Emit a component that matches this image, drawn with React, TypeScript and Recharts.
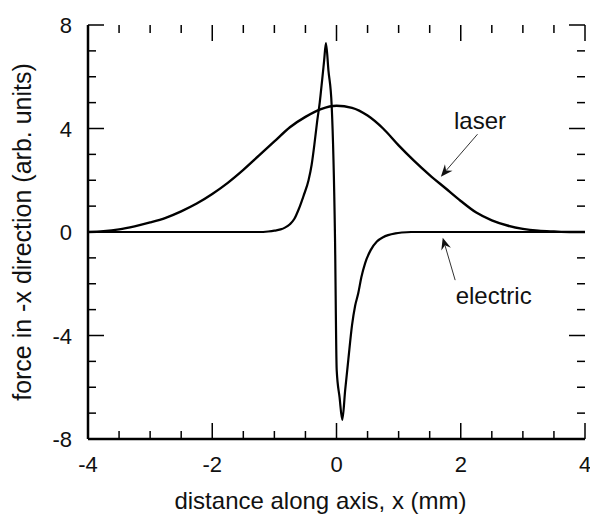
import React from "react";
import {
  LineChart,
  Line,
  XAxis,
  YAxis,
  ReferenceLine,
  ReferenceDot,
  Label,
} from "recharts";

// laser force
const laser = [
  { x: -4, y: 0 },
  { x: -3.75, y: 0.03 },
  { x: -3.5, y: 0.1 },
  { x: -3.25, y: 0.22 },
  { x: -3, y: 0.37 },
  { x: -2.75, y: 0.55 },
  { x: -2.5, y: 0.8 },
  { x: -2.25, y: 1.1 },
  { x: -2, y: 1.47 },
  { x: -1.75, y: 1.9 },
  { x: -1.5, y: 2.4 },
  { x: -1.25, y: 2.95 },
  { x: -1, y: 3.5 },
  { x: -0.75, y: 4.05 },
  { x: -0.5, y: 4.45 },
  { x: -0.25, y: 4.75 },
  { x: 0, y: 4.88 },
  { x: 0.25, y: 4.8 },
  { x: 0.5, y: 4.5 },
  { x: 0.75, y: 4.0 },
  { x: 1, y: 3.35 },
  { x: 1.25, y: 2.75 },
  { x: 1.5, y: 2.2 },
  { x: 1.75, y: 1.7 },
  { x: 2, y: 1.2 },
  { x: 2.25, y: 0.75 },
  { x: 2.5, y: 0.45 },
  { x: 2.75, y: 0.25 },
  { x: 3, y: 0.12 },
  { x: 3.25, y: 0.05 },
  { x: 3.5, y: 0.02 },
  { x: 3.75, y: 0 },
  { x: 4, y: 0 },
];

// electric force
const electric = [
  { x: -4, y: 0 },
  { x: -1.25, y: 0 },
  { x: -1.1, y: 0.02 },
  { x: -1.0, y: 0.05 },
  { x: -0.9, y: 0.1 },
  { x: -0.83, y: 0.17 },
  { x: -0.75, y: 0.3 },
  { x: -0.68, y: 0.5 },
  { x: -0.61, y: 0.87 },
  { x: -0.53, y: 1.4 },
  { x: -0.45, y: 2.0 },
  { x: -0.4, y: 2.6 },
  { x: -0.35, y: 3.5 },
  { x: -0.31, y: 4.3 },
  { x: -0.27, y: 5.0 },
  { x: -0.23, y: 5.9 },
  { x: -0.2, y: 6.6 },
  { x: -0.17, y: 7.3 },
  { x: -0.13, y: 6.25 },
  { x: -0.078, y: 4.9 },
  { x: -0.024, y: -0.23 },
  { x: 0.003, y: -5.33 },
  { x: 0.05, y: -6.4 },
  { x: 0.093, y: -7.26 },
  { x: 0.14, y: -6.1 },
  { x: 0.19, y: -4.94 },
  { x: 0.25, y: -3.6 },
  { x: 0.3, y: -2.85 },
  { x: 0.35, y: -2.37 },
  { x: 0.4, y: -1.75 },
  { x: 0.46, y: -1.21 },
  { x: 0.55, y: -0.7 },
  { x: 0.65, y: -0.37 },
  { x: 0.75, y: -0.2 },
  { x: 0.83, y: -0.12 },
  { x: 0.95, y: -0.05 },
  { x: 1.05, y: -0.02 },
  { x: 1.2, y: 0 },
  { x: 4, y: 0 },
];

const xTicks = [-4, -3.5, -3, -2.5, -2, -1.5, -1, -0.5, 0, 0.5, 1, 1.5, 2, 2.5, 3, 3.5, 4];
const yTicks = [-8, -7, -6, -5, -4, -3, -2, -1, 0, 1, 2, 3, 4, 5, 6, 7, 8];

// annotations: [tail, head] and text anchor
const laserArrow = [{ x: 2.27, y: 3.78 }, { x: 1.68, y: 2.14 }];
const electricArrow = [{ x: 1.91, y: -1.86 }, { x: 1.71, y: -0.22 }];
const notes = [
  { x: 2.31, y: 4.0, text: "laser" },
  { x: 2.53, y: -2.79, text: "electric" },
];

const FONT = "'Liberation Sans', Arial, sans-serif";
const W = 590;
const H = 515;
const M = { top: 25, right: 5, bottom: 0, left: 0 };
const MAJOR = 16;
const MINOR = 8;

const isMajorX = (v: number) => v % 2 === 0;
const isMajorY = (v: number) => v % 4 === 0;

// bottom tick: also mirrors an inward tick on the top frame
function BottomTick({ x, y, payload, plotTop }: any) {
  const major = isMajorX(payload.value);
  const len = major ? MAJOR : MINOR;
  return (
    <g>
      <line x1={x} x2={x} y1={y} y2={y - len} stroke="#000" strokeWidth={1.5} />
      <line x1={x} x2={x} y1={plotTop} y2={plotTop + len} stroke="#000" strokeWidth={1.5} />
      {major && (
        <text x={x} y={y + 33} textAnchor="middle" fontSize={22} fontFamily={FONT} fill="#111">
          {payload.value}
        </text>
      )}
    </g>
  );
}

// left tick: also mirrors an inward tick on the right frame
function LeftTick({ x, y, payload, plotRight }: any) {
  const major = isMajorY(payload.value);
  const len = major ? MAJOR : MINOR;
  return (
    <g>
      <line x1={x} x2={x + len} y1={y} y2={y} stroke="#000" strokeWidth={1.5} />
      <line x1={plotRight} x2={plotRight - len} y1={y} y2={y} stroke="#000" strokeWidth={1.5} />
      {major && (
        <text x={x - 16} y={y + 8} textAnchor="end" fontSize={22} fontFamily={FONT} fill="#111">
          {payload.value}
        </text>
      )}
    </g>
  );
}

function Arrow(props: any) {
  const { x1, y1, x2, y2 } = props;
  const dx = x2 - x1;
  const dy = y2 - y1;
  const len = Math.sqrt(dx * dx + dy * dy) || 1;
  const ux = dx / len;
  const uy = dy / len;
  const bx = x2 - ux * 12;
  const by = y2 - uy * 12;
  const nx = x2 - ux * 8;
  const ny = y2 - uy * 8;
  const pts = [
    [x2, y2],
    [bx - uy * 5, by + ux * 5],
    [nx, ny],
    [bx + uy * 5, by - ux * 5],
  ]
    .map((p) => p.join(","))
    .join(" ");
  return (
    <g>
      <line x1={x1} y1={y1} x2={nx} y2={ny} stroke="#333" strokeWidth={1} />
      <polygon points={pts} fill="#111" />
    </g>
  );
}

export default function App() {
  return (
    <div style={{ position: "absolute", left: 0, top: 0, background: "#fff" }}>
      <LineChart width={W} height={H} margin={M}>
        <XAxis
          dataKey="x"
          type="number"
          domain={[-4, 4]}
          ticks={xTicks}
          interval={0}
          height={76}
          tickSize={0}
          tickMargin={0}
          tickLine={false}
          axisLine={{ stroke: "#000", strokeWidth: 2.5 }}
          tick={<BottomTick plotTop={M.top} />}
        >
          <Label
            content={({ viewBox }: any) => (
              <text
                x={viewBox.x + viewBox.width / 2 - 16}
                y={viewBox.y + 70}
                textAnchor="middle"
                fontSize={24}
                fontFamily={FONT}
                fill="#111"
              >
                distance along axis, x (mm)
              </text>
            )}
          />
        </XAxis>
        <XAxis
          xAxisId="top"
          orientation="top"
          dataKey="x"
          type="number"
          domain={[-4, 4]}
          height={0}
          tick={false}
          tickLine={false}
          axisLine={{ stroke: "#000", strokeWidth: 2.5 }}
        />
        <YAxis
          type="number"
          domain={[-8, 8]}
          ticks={yTicks}
          interval={0}
          width={88}
          tickSize={0}
          tickMargin={0}
          tickLine={false}
          axisLine={{ stroke: "#000", strokeWidth: 2.5 }}
          tick={<LeftTick plotRight={W - M.right} />}
        >
          <Label
            content={({ viewBox }: any) => {
              const cx = 22;
              const cy = viewBox.y + viewBox.height / 2;
              return (
                <text
                  x={cx}
                  y={cy}
                  transform={`rotate(-90, ${cx}, ${cy})`}
                  textAnchor="middle"
                  dominantBaseline="central"
                  fontSize={25}
                  fontFamily={FONT}
                  fill="#111"
                >
                  force in -x direction (arb. units)
                </text>
              );
            }}
          />
        </YAxis>
        <YAxis
          yAxisId="right"
          orientation="right"
          type="number"
          domain={[-8, 8]}
          width={0}
          tick={false}
          tickLine={false}
          axisLine={{ stroke: "#000", strokeWidth: 2.5 }}
        />
        <Line
          data={laser}
          dataKey="y"
          type="monotone"
          stroke="#000"
          strokeWidth={2.4}
          dot={false}
          activeDot={false}
          isAnimationActive={false}
        />
        <Line
          data={electric}
          dataKey="y"
          type="monotone"
          stroke="#000"
          strokeWidth={2.2}
          dot={false}
          activeDot={false}
          isAnimationActive={false}
        />
        <ReferenceLine segment={laserArrow} shape={<Arrow />} />
        <ReferenceLine segment={electricArrow} shape={<Arrow />} />
        {notes.map((n) => (
          <ReferenceDot
            key={n.text}
            x={n.x}
            y={n.y}
            r={0}
            shape={(p: any) => (
              <text x={p.cx} y={p.cy} textAnchor="middle" fontSize={24} fontFamily={FONT} fill="#111">
                {n.text}
              </text>
            )}
          />
        ))}
      </LineChart>
    </div>
  );
}
